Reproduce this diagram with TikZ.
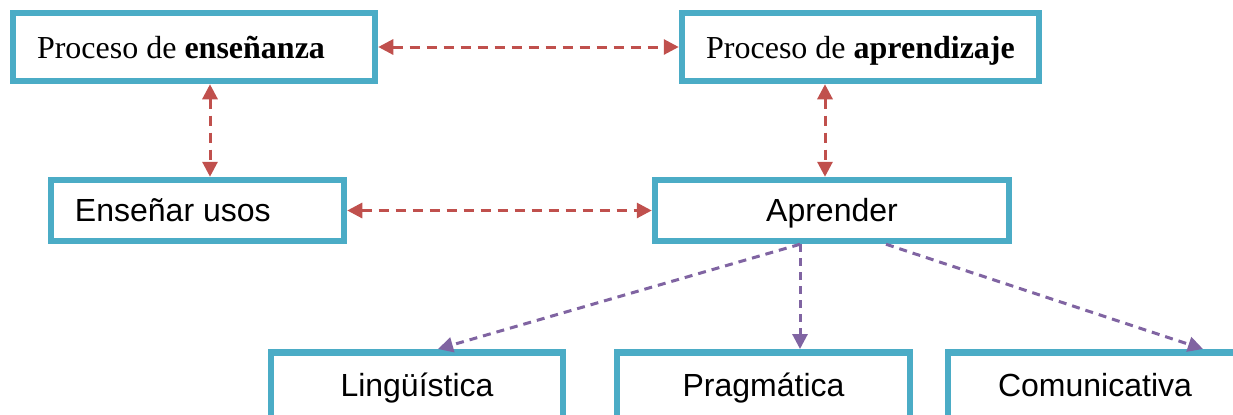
\documentclass[tikz,border=0pt]{standalone}
\usepackage{fontspec}
\setmainfont{Liberation Serif}
\setsansfont{Liberation Sans}
\usetikzlibrary{arrows.meta}
\definecolor{cajaazul}{HTML}{4BACC6}
\definecolor{rojo}{HTML}{C0504D}
\definecolor{morado}{HTML}{8064A2}

\begin{document}
\begin{tikzpicture}[x=0.5pt,y=-0.5pt,
	caja/.style={draw=cajaazul,line width=3.25pt,minimum height=34pt,text height=11pt,text depth=0pt,font=\fontsize{16}{19}\selectfont},
	cajaizq/.style={caja,text width=#1,align=flush left,inner xsep=12pt},
	cajabaja/.style={caja,font=\fontsize{16}{19}\selectfont\sffamily,anchor=north,inner ysep=0pt,text height=22pt,text depth=22pt,minimum width=#1},
	flecharoja/.style={rojo,line width=1.5pt,dash pattern=on 5pt off 3.5pt,{Triangle[length=7.5pt,width=7.5pt]}-{Triangle[length=7.5pt,width=7.5pt]}},
	flechamorada/.style={morado,line width=1.5pt,dash pattern=on 4pt off 3pt,-{Triangle[length=7.5pt,width=7.5pt]}}]
		\clip (0,0) rectangle (1233,414);
		\fill[white] (0,0) rectangle (1233,414);
		\node[cajaizq=157pt] (ensenanza) at (194,47) {Proceso de \textbf{enseñanza}};
		\node[caja,minimum width=178.5pt] (aprendizaje) at (860.5,47) {Proceso de \textbf{aprendizaje}};
		\node[cajaizq=122.5pt,minimum height=30.5pt,font=\fontsize{16}{19}\selectfont\sffamily] (usos) at (197.5,210.5) {Enseñar usos};
		\node[caja,minimum width=177pt,minimum height=30.5pt,font=\fontsize{16}{19}\selectfont\sffamily] (aprender) at (832,210.5) {Aprender};
		\node[cajabaja=146pt] (linguistica) at (417,349) {Lingüística};
		\node[cajabaja=146.5pt] (pragmatica) at (763.5,349) {Pragmática};
		\node[cajabaja=147pt] (comunicativa) at (1095,349) {Comunicativa};
		\draw[flecharoja] (ensenanza.east) -- (aprendizaje.west);
		\draw[flecharoja] ([xshift=8pt]ensenanza.south) -- ([xshift=6.25pt]usos.north);
		\draw[flecharoja] ([xshift=-17.75pt]aprendizaje.south) -- ([xshift=-3.5pt]aprender.north);
		\draw[flecharoja] (usos.east) -- (aprender.west);
		\draw[flechamorada] ([xshift=-16pt]aprender.south) -- ([xshift=10.5pt]linguistica.north);
		\draw[flechamorada] ([xshift=-16pt]aprender.south) -- ([xshift=18.25pt]pragmatica.north);
		\draw[flechamorada] ([xshift=27pt]aprender.south) -- ([xshift=54pt]comunicativa.north);
\end{tikzpicture}
\end{document}
